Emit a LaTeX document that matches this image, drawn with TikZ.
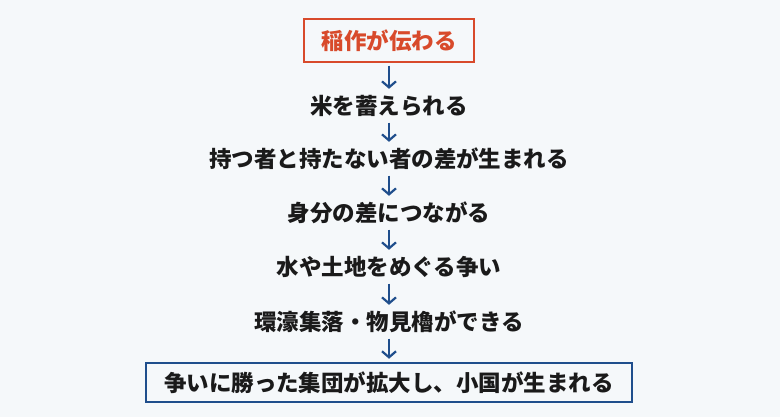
\documentclass[tikz,border=0pt]{standalone}
\usepackage{fontspec}
\setmainfont{Noto Sans CJK JP}
\usetikzlibrary{arrows.meta}
\definecolor{bg}{HTML}{F5F8FA}
\definecolor{redbox}{HTML}{D84A2B}
\definecolor{bluebox}{HTML}{1F4E8C}
\definecolor{txt}{HTML}{1A1A1A}
\begin{document}
\begin{tikzpicture}[x=1pt,y=-1pt,
  stepnode/.style={font=\fontsize{22.5}{26}\selectfont\bfseries, text=txt, inner sep=0pt, minimum height=28pt},
  flowarrow/.style={draw=bluebox, line width=2.2pt, -{Straight Barb[length=6pt,width=14pt,line width=2.2pt]}, shorten <=2.5pt, shorten >=3pt}]
\fill[bg] (0,0) rectangle (780,417);
\useasboundingbox (0,0) rectangle (780,417);
\node[stepnode, draw=redbox, line width=2.5pt, text=redbox, minimum width=170pt, minimum height=43pt] (n1) at (389,40.5) {稲作が伝わる};
\node[stepnode] (n2) at (389,106) {米を蓄えられる};
\node[stepnode] (n3) at (389,159) {持つ者と持たない者の差が生まれる};
\node[stepnode] (n4) at (389,213) {身分の差につながる};
\node[stepnode] (n5) at (389,267) {水や土地をめぐる争い};
\node[stepnode] (n6) at (389,322) {環濠集落・物見櫓ができる};
\node[stepnode, draw=bluebox, line width=2.5pt, minimum width=486pt, minimum height=39pt] (n7) at (389,382.5) {争いに勝った集団が拡大し、小国が生まれる};
\draw[flowarrow] (n1) -- (n2);
\draw[flowarrow] (n2) -- (n3);
\draw[flowarrow] (n3) -- (n4);
\draw[flowarrow] (n4) -- (n5);
\draw[flowarrow] (n5) -- (n6);
\draw[flowarrow] (n6) -- (n7);
\end{tikzpicture}
\end{document}
